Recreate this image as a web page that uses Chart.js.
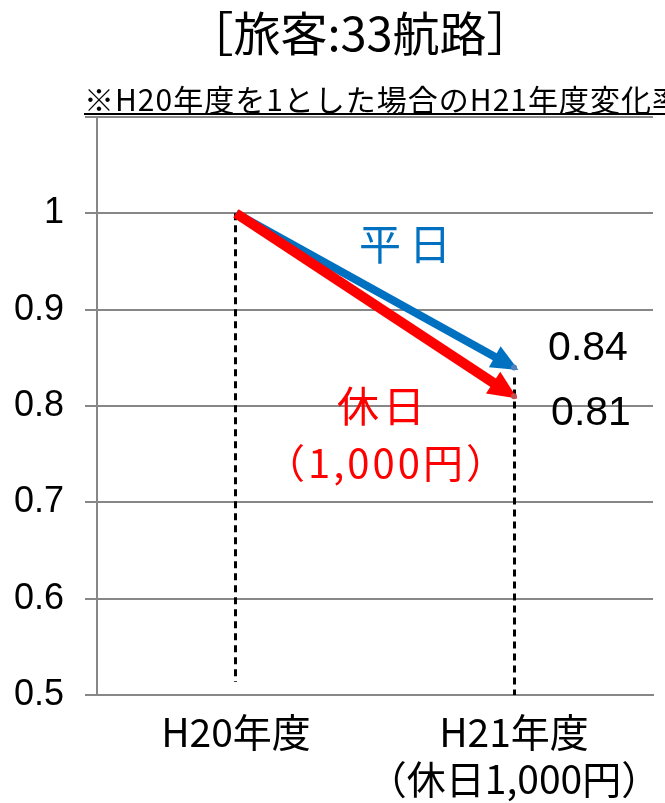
<!DOCTYPE html>
<html>
<head>
<meta charset="utf-8">
<script src="https://cdn.jsdelivr.net/npm/chart.js@4"></script>
<style>
  html, body { margin: 0; padding: 0; background: #fff; }
  canvas { display: block; }
</style>
</head>
<body>
<canvas id="chart" width="665" height="803"></canvas>
<script>
// Passenger ferries, 33 routes: change in traffic, FY H20 = 1
const titleText = '［旅客:33航路］';
const noteText = '※H20年度を1とした場合のH21年度変化率';
const categories = [['H20年度'], ['H21年度', '（休日1,000円）']];
const seriesNames = ['平日', '休日'];
const seriesNotes = ['', '（1,000円）'];
const weekdayValues = [1, 0.84];
const holidayValues = [1, 0.81];
const yTickValues = [0.5, 0.6, 0.7, 0.8, 0.9, 1.0, 1.1];
const yTickLabels = ['0.5', '0.6', '0.7', '0.8', '0.9', '1', ''];

const BLUE = '#0070C0';
const RED = '#FF0000';
const GRID = '#878787';
const JP = '"Noto Sans CJK JP", "Noto Sans CJK SC", sans-serif';
const NUM = '"Liberation Sans", Arial, sans-serif';

// shaft width, head length, head half-width, tip overshoot
const arrowStyles = [
  { color: BLUE, w: 8, head: 27, half: 12, ext: 5 },
  { color: RED, w: 10, head: 29, half: 13, ext: 4 }
];

function strokeLine(ctx, x1, y1, x2, y2) {
  ctx.beginPath();
  ctx.moveTo(x1, y1);
  ctx.lineTo(x2, y2);
  ctx.stroke();
}

const annotations = {
  id: 'annotations',
  beforeDatasetsDraw(chart) {
    const ctx = chart.ctx;
    const bottom = chart.chartArea.bottom;
    const m0 = chart.getDatasetMeta(0);
    const m1 = chart.getDatasetMeta(1);

    // dashed drop lines under each year
    ctx.save();
    ctx.strokeStyle = '#000';
    ctx.lineWidth = 3;
    ctx.setLineDash([7, 5]);
    const xa = Math.round(m0.data[0].x) - 0.5;
    const ya = Math.min(m0.data[0].y, m1.data[0].y);
    strokeLine(ctx, xa, ya, xa, bottom - 13);
    const xb = Math.round(m0.data[1].x) + 0.5;
    const yb = Math.min(m0.data[1].y, m1.data[1].y);
    strokeLine(ctx, xb, yb + 10, xb, bottom);
    ctx.restore();

    // arrows from H20 to H21
    [0, 1].forEach(i => {
      const s = arrowStyles[i];
      const pts = chart.getDatasetMeta(i).data;
      const p0 = pts[0], p1 = pts[1];
      const dx = p1.x - p0.x, dy = p1.y - p0.y;
      const len = Math.hypot(dx, dy);
      const ux = dx / len, uy = dy / len;
      const tipX = p1.x + ux * s.ext, tipY = p1.y + uy * s.ext;
      const baseX = tipX - ux * s.head, baseY = tipY - uy * s.head;
      ctx.save();
      ctx.strokeStyle = s.color;
      ctx.fillStyle = s.color;
      ctx.lineWidth = s.w;
      ctx.lineCap = 'butt';
      strokeLine(ctx, p0.x, p0.y, baseX + ux * 2, baseY + uy * 2);
      ctx.beginPath();
      ctx.moveTo(tipX, tipY);
      ctx.lineTo(baseX - uy * s.half, baseY + ux * s.half);
      ctx.lineTo(baseX + uy * s.half, baseY - ux * s.half);
      ctx.closePath();
      ctx.fill();
      ctx.restore();
    });
  },
  afterDatasetsDraw(chart) {
    const ctx = chart.ctx;
    const values = [weekdayValues, holidayValues];
    const pts = [0, 1].map(i => chart.getDatasetMeta(i).data);
    ctx.save();
    ctx.textAlign = 'center';
    ctx.textBaseline = 'alphabetic';

    // end values
    ctx.fillStyle = '#000';
    ctx.font = '41px ' + NUM;
    ctx.fillText(values[0][1].toFixed(2), pts[0][1].x + 74, pts[0][1].y - 7);
    ctx.fillText(values[1][1].toFixed(2), pts[1][1].x + 77, pts[1][1].y + 29);

    // series names beside the arrows
    const mid = p => ({ x: (p[0].x + p[1].x) / 2, y: (p[0].y + p[1].y) / 2 });
    const mb = mid(pts[0]);
    const mr = mid(pts[1]);
    ctx.font = '42px ' + JP;
    ctx.fillStyle = BLUE;
    ctx.letterSpacing = '8px';
    ctx.fillText(seriesNames[0], mb.x + 34, mb.y - 30);
    ctx.fillStyle = RED;
    ctx.letterSpacing = '4px';
    ctx.fillText(seriesNames[1], mr.x + 8, mr.y + 117);
    ctx.letterSpacing = '3px';
    ctx.font = '40px ' + JP;
    ctx.fillText(seriesNotes[1], mr.x + 12, mr.y + 173);
    ctx.restore();
  },
  afterDraw(chart) {
    const ctx = chart.ctx;
    ctx.save();
    ctx.fillStyle = '#000';
    ctx.textBaseline = 'alphabetic';
    ctx.textAlign = 'center';
    ctx.font = '47px ' + JP;
    ctx.fillText(titleText, 360, 51);

    ctx.textAlign = 'left';
    ctx.font = '30px ' + JP;
    ctx.letterSpacing = '1px';
    ctx.fillText(noteText, 84, 111);
    ctx.fillRect(84, 113, chart.width - 84, 2);
    ctx.restore();
  }
};

new Chart(document.getElementById('chart'), {
  type: 'line',
  data: {
    labels: categories,
    datasets: [
      {
        label: seriesNames[0],
        data: weekdayValues,
        showLine: false,
        pointRadius: [0, 3],
        pointBorderWidth: 0,
        pointBackgroundColor: '#4F81BD'
      },
      {
        label: seriesNames[1],
        data: holidayValues,
        showLine: false,
        pointRadius: [0, 3],
        pointBorderWidth: 0,
        pointBackgroundColor: '#C0504D'
      }
    ]
  },
  options: {
    responsive: false,
    animation: false,
    devicePixelRatio: 1,
    layout: { padding: { top: 117, right: 12, left: 0, bottom: 0 } },
    plugins: {
      legend: { display: false },
      tooltip: { enabled: false },
      title: { display: false }
    },
    scales: {
      x: {
        type: 'category',
        offset: true,
        grid: { display: false, drawTicks: false },
        border: { display: true, color: GRID, width: 2 },
        ticks: {
          color: '#000',
          padding: 14,
          maxRotation: 0,
          autoSkip: false,
          font: { family: JP, size: 39, lineHeight: 1.2 }
        },
        afterFit(scale) {
          scale.height = 108;
          scale.paddingLeft = 0;
          scale.paddingRight = 0;
        }
      },
      y: {
        min: 0.5,
        max: 1.1,
        grid: { color: GRID, lineWidth: 2, tickLength: 12, drawTicks: true },
        border: { display: true, color: GRID, width: 2 },
        ticks: {
          color: '#000',
          padding: 21,
          font: { family: NUM, size: 36 },
          callback: (v) => {
            const i = yTickValues.findIndex(t => Math.abs(t - v) < 1e-6);
            return i >= 0 ? yTickLabels[i] : '';
          }
        },
        afterBuildTicks(scale) {
          scale.ticks = yTickValues.map(v => ({ value: v }));
        },
        afterFit(scale) { scale.width = 97; }
      }
    }
  },
  plugins: [annotations]
});
</script>
</body>
</html>
